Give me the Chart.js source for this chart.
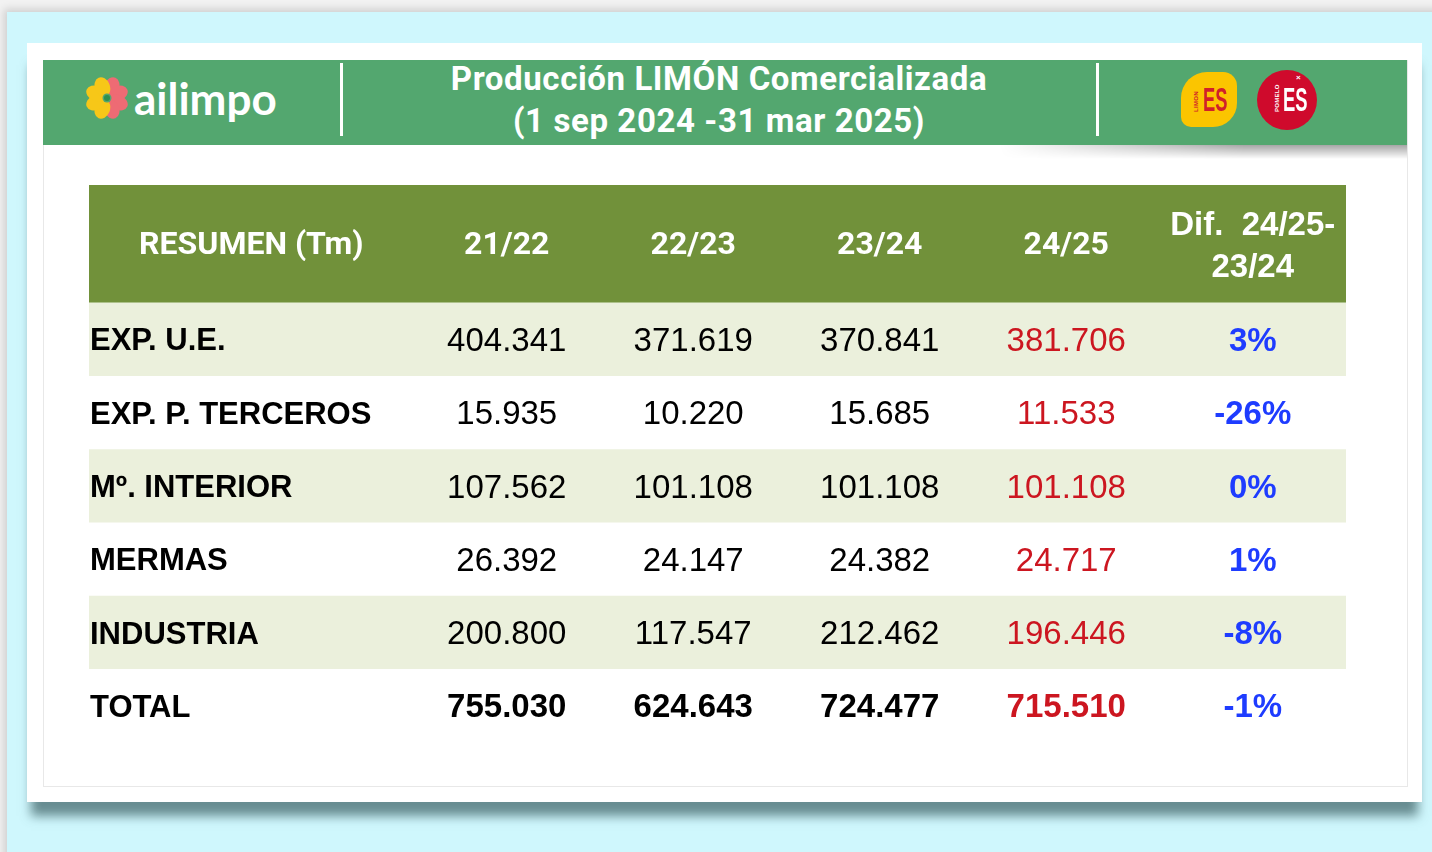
<!DOCTYPE html>
<html>
<head>
<meta charset="utf-8">
<script src="https://cdn.jsdelivr.net/npm/chart.js@4"></script>
<style>
html, body { margin: 0; padding: 0; }
body { width: 1432px; height: 852px; background: #f2f2f2; position: relative; overflow: hidden; font-family: 'Liberation Sans', Arial, sans-serif; }
#sky { position: absolute; left: 7px; top: 12px; width: 1440px; height: 860px; background: #cff7fd; box-shadow: -3px -3px 8px rgba(0,0,0,0.15); }
#card { position: absolute; left: 27px; top: 43px; width: 1395px; height: 759px; background: #fff; box-shadow: 0 18px 10px -4px rgba(70,105,110,0.75); }
#frame { position: absolute; left: 43px; top: 60px; width: 1363px; height: 725px; border: 1px solid #e8e8e8; }
#bshadow { position: absolute; left: 1000px; top: 145px; width: 407px; height: 14px; background: linear-gradient(to bottom, rgba(0,0,0,0.35), rgba(0,0,0,0)); -webkit-mask-image: linear-gradient(to right, transparent, #000 60%); mask-image: linear-gradient(to right, transparent, #000 60%); }
#banner { position: absolute; left: 43px; top: 60px; width: 1364px; height: 85px; background: #53a76f; }
.sep { position: absolute; top: 3px; width: 3px; height: 73px; background: #fff; }
#brand { position: absolute; color: #fff; font: 700 44px Lato, sans-serif; letter-spacing: 0px; }
#title { position: absolute; left: 298px; width: 756px; top: -2px; text-align: center; color: #fff; font: 700 33px Roboto, sans-serif; letter-spacing: 0.6px; line-height: 42px; }
#lemon { position: absolute; left: 1138px; top: 12px; width: 56px; height: 55px; background: #fbc500; border-radius: 26px 14px 24px 10px; }
#pomelo { position: absolute; left: 1214px; top: 10px; width: 60px; height: 60px; background: #cf0a2c; border-radius: 50%; }
.es { position: absolute; font: 700 34px 'Liberation Sans Narrow', 'Liberation Sans', sans-serif; transform: scaleX(0.54); transform-origin: left top; }
.tiny { position: absolute; font: 700 6px 'Liberation Sans', sans-serif; transform: rotate(-90deg); transform-origin: left top; letter-spacing: 0.3px; }
#wrap { position: absolute; left: 89px; top: 185px; width: 1257px; height: 557px; }
</style>
</head>
<body>
<div id="sky"></div>
<div id="card"></div>
<div id="frame"></div>
<div id="bshadow"></div>
<div id="banner">
  <svg style="position:absolute;left:41px;top:15px" width="46" height="46" viewBox="-23 -23 46 46">
    <g id="petals"></g>
  </svg>
  <div id="brand" style="left:91px;top:12px">ailimpo</div>
  <div class="sep" style="left:297px"></div>
  <div id="title">Producción LIMÓN Comercializada<br>(1 sep 2024 -31 mar 2025)</div>
  <div class="sep" style="left:1053px"></div>
  <div id="lemon">
    <div class="tiny" style="left:12px;top:40px;color:#d0202a">LIMON</div>
    <div class="es" style="left:22px;top:8px;color:#d0202a">ES</div>
  </div>
  <div id="pomelo">
    <div class="tiny" style="left:17px;top:42px;color:#fff">POMELO</div>
    <div class="es" style="left:26px;top:10px;color:#fff">ES</div>
    <div style="position:absolute;left:39px;top:3px;color:#fff;font:700 8px sans-serif">×</div>
  </div>
</div>
<div id="wrap"><canvas id="tabla"></canvas></div>
<script>
// petals of the flower logo: left half yellow, right half pink
(function () {
  const g = document.getElementById('petals');
  let s = '';
  for (let k = 0; k < 8; k++) {
    const a = (k * 45 + 22.5);
    const col = a > 180 ? '#f7c718' : '#ee6b74';
    s += '<ellipse cx="0" cy="-12" rx="7.5" ry="10" fill="' + col + '" transform="rotate(' + a + ')"/>';
  }
  s += '<circle r="4.5" fill="#53a76f"/><circle r="3" fill="#2f8f4f"/>';
  g.innerHTML = s;
})();

const seasons = ['21/22', '22/23', '23/24', '24/25'];
const rowLabels = ['EXP. U.E.', 'EXP. P. TERCEROS', 'Mº. INTERIOR', 'MERMAS', 'INDUSTRIA', 'TOTAL'];
const v2122 = [404341, 15935, 107562, 26392, 200800, 755030];
const v2223 = [371619, 10220, 101108, 24147, 117547, 624643];
const v2324 = [370841, 15685, 101108, 24382, 212462, 724477];
const v2425 = [381706, 11533, 101108, 24717, 196446, 715510];
const difPct = [3, -26, 0, 1, -8, -1];
const headerFirst = 'RESUMEN (Tm)';
const headerDif = ['Dif.  24/25-', '23/24'];

const valueCols = [v2122, v2223, v2324, v2425];
const HEADER_SPAN = 1.6;   // header height in row units
const LABEL_SPAN = 1.74;   // label column width in column units

function fmt(n) {
  return String(n).replace(/\B(?=(\d{3})+(?!\d))/g, '.');
}

// one floating bar per band (header + rows)
const bands = [{ range: [-0.5 - HEADER_SPAN, -0.5], color: '#71913a' }];
rowLabels.forEach((r, i) => {
  bands.push({ range: [i - 0.5, i + 0.5], color: i % 2 === 0 ? '#ebf0dc' : '#ffffff' });
});

const tablePlugin = {
  id: 'tablePlugin',
  afterDatasetsDraw(chart) {
    const ctx = chart.ctx;
    const cx = chart.scales.cols;
    const y = chart.scales.y;
    ctx.save();
    ctx.textBaseline = 'middle';
    // header
    const hy = y.getPixelForValue(-0.5 - HEADER_SPAN / 2);
    ctx.fillStyle = '#ffffff';
    ctx.textAlign = 'center';
    ctx.font = '700 32px Roboto, sans-serif';
    ctx.fillText(headerFirst, cx.getPixelForValue(-LABEL_SPAN / 2), hy + 2);
    seasons.forEach((s, j) => ctx.fillText(s, cx.getPixelForValue(j + 0.5), hy + 2));
    ctx.font = '700 33px "Liberation Sans", Arial, sans-serif';
    ctx.fillText(headerDif[0], cx.getPixelForValue(4.5), hy - 18);
    ctx.fillText(headerDif[1], cx.getPixelForValue(4.5), hy + 24);
    // rows
    rowLabels.forEach((r, i) => {
      const py = y.getPixelForValue(i) + 3;
      const bold = i === rowLabels.length - 1;
      ctx.textAlign = 'left';
      ctx.fillStyle = '#000';
      ctx.font = '700 31px "Liberation Sans", Arial, sans-serif';
      ctx.fillText(r, cx.getPixelForValue(-LABEL_SPAN) + 1, py);
      ctx.textAlign = 'center';
      ctx.font = (bold ? '700 ' : '400 ') + '33px "Liberation Sans", Arial, sans-serif';
      valueCols.forEach((col, j) => {
        ctx.fillStyle = j === 3 ? '#cc1620' : '#000';
        ctx.fillText(fmt(col[i]), cx.getPixelForValue(j + 0.5), py);
      });
      ctx.fillStyle = '#1e3cff';
      ctx.font = '700 33px "Liberation Sans", Arial, sans-serif';
      ctx.fillText(difPct[i] + '%', cx.getPixelForValue(4.5), py);
    });
    ctx.restore();
  }
};

new Chart(document.getElementById('tabla'), {
  type: 'bar',
  data: {
    labels: [''],
    datasets: bands.map(b => ({
      data: [b.range],
      backgroundColor: b.color,
      borderWidth: 0,
      grouped: false,
      barPercentage: 1,
      categoryPercentage: 1
    }))
  },
  options: {
    responsive: true,
    maintainAspectRatio: false,
    animation: false,
    layout: { padding: 0 },
    plugins: { legend: { display: false }, tooltip: { enabled: false } },
    scales: {
      x: { display: false },
      cols: { type: 'linear', axis: 'x', display: false, offset: false, min: -LABEL_SPAN, max: 5 },
      y: { display: false, reverse: true, min: -0.5 - HEADER_SPAN, max: rowLabels.length - 0.5 }
    }
  },
  plugins: [tablePlugin]
});
</script>
</body>
</html>
